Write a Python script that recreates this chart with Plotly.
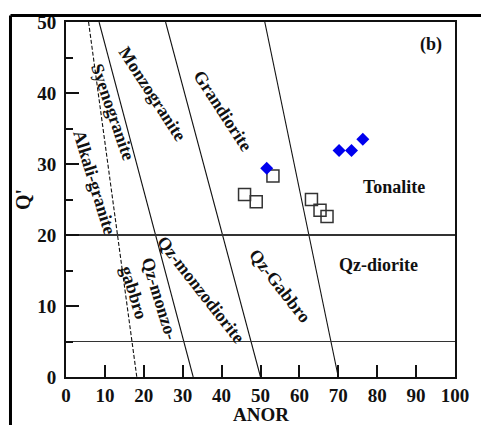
import plotly.graph_objects as go

# Field boundaries of the Q' - ANOR classification: ANOR at Q'=50 and at Q'=0
boundary_top = [5.8, 8.5, 25.6, 51.1]
boundary_bottom = [18.2, 32.7, 50.0, 70.0]
boundary_dash = ["4px,2px", "solid", "solid", "solid"]
horizontal_q = [20, 5]

# Samples
open_anor = [45.9, 48.9, 53.2, 63.1, 65.3, 67.1]
open_q = [25.7, 24.7, 28.3, 25.0, 23.5, 22.6]
blue_anor = [51.6, 70.2, 73.4, 76.3]
blue_q = [29.4, 31.9, 31.9, 33.5]

x_ticks = [0, 10, 20, 30, 40, 50, 60, 70, 80, 90, 100]
y_ticks = [0, 10, 20, 30, 40, 50]

FONT = "Liberation Serif"

fig = go.Figure()

for xt, xb, d in zip(boundary_top, boundary_bottom, boundary_dash):
    fig.add_trace(go.Scatter(x=[xt, xb], y=[50, 0], mode="lines",
                             line=dict(color="#111111", width=1.1, dash=d),
                             hoverinfo="skip", showlegend=False))

for q, w in zip(horizontal_q, [1.8, 1.2]):
    fig.add_trace(go.Scatter(x=[0, 100], y=[q, q], mode="lines",
                             line=dict(color="#333333", width=w),
                             hoverinfo="skip", showlegend=False))

fig.add_trace(go.Scatter(x=open_anor, y=open_q, mode="markers",
                         marker=dict(symbol="square-open", size=12,
                                     color="#333333", line=dict(width=1.5, color="#333333")),
                         showlegend=False))
fig.add_trace(go.Scatter(x=blue_anor, y=blue_q, mode="markers",
                         marker=dict(symbol="diamond", size=10, color="#0000ee",
                                     line=dict(width=0)),
                         showlegend=False))

labels = [
    ("Monzogranite", 22.2, 39.8, 57),
    ("Grandiorite", 40.4, 37.5, 57),
    ("Syenogranite", 12.0, 37.3, 71),
    ("Alkali-granite", 7.2, 27.4, 73),
    ("gabbro", 17.6, 11.9, 73),
    ("Qz-monzo-", 24.1, 11.0, 73),
    ("Qz-monzodiorite", 34.8, 12.3, 52),
    ("Qz-Gabbro", 55.0, 12.8, 52),
    ("Tonalite", 84.4, 26.7, 0),
    ("Qz-diorite", 80.4, 15.8, 0),
    ("(b)", 93.8, 46.9, 0),
]
for text, x, y, ang in labels:
    fig.add_annotation(x=x, y=y, xref="x", yref="y", text=f"<b>{text}</b>",
                       textangle=ang, showarrow=False, xanchor="center", yanchor="middle",
                       font=dict(family=FONT, size=18, color="#111111"))

# Axis titles
fig.add_annotation(x=0.5, y=-0.106, xref="paper", yref="paper", text="<b>ANOR</b>",
                   showarrow=False, xanchor="center", yanchor="middle",
                   font=dict(family=FONT, size=19, color="#111111"))
fig.add_annotation(x=-0.112, y=0.5, xref="paper", yref="paper", text="<b>Q'</b>",
                   textangle=-90, showarrow=False, xanchor="center", yanchor="middle",
                   font=dict(family=FONT, size=20, color="#111111"))

# Outer frame of the panel (top and left edges)
fig.add_shape(type="line", xref="paper", yref="paper", x0=-0.1427, x1=1.2, y0=1.018, y1=1.018,
              line=dict(color="black", width=3))
fig.add_shape(type="line", xref="paper", yref="paper", x0=-0.1427, x1=-0.1427, y0=1.018, y1=-0.3,
              line=dict(color="black", width=3))

axis_common = dict(showgrid=False, zeroline=False, showline=True, mirror=True,
                   linecolor="#111111", linewidth=2, ticks="inside", tickcolor="#111111",
                   tickwidth=2, tickfont=dict(family=FONT, size=19, color="#111111"))

fig.update_xaxes(range=[0, 100], tickvals=x_ticks, ticktext=[f"<b>{v}</b>" for v in x_ticks],
                 ticklen=12, ticklabelstandoff=0, **axis_common)
fig.update_yaxes(range=[0, 50], tickvals=y_ticks, ticktext=[f"<b>{v}</b>" for v in y_ticks],
                 ticklen=13, ticklabelstandoff=4,
                 minor=dict(tickvals=[5, 15, 25, 35, 45], ticklen=7, tickwidth=2,
                            tickcolor="#111111", ticks="inside"),
                 **axis_common)

fig.update_layout(width=481, height=425, margin=dict(l=66, r=19, t=16, b=48),
                  plot_bgcolor="white", paper_bgcolor="white")

fig.write_html("out.html")
